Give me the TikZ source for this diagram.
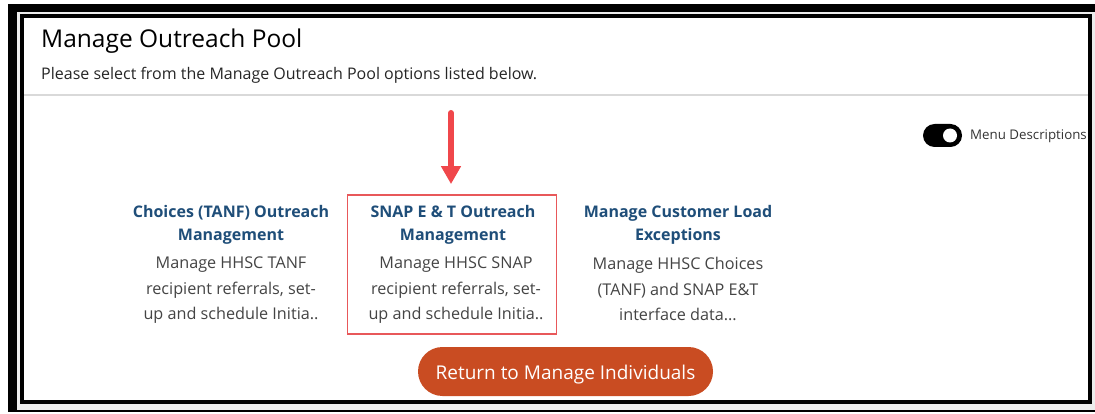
\documentclass[tikz,border=0pt]{standalone}
\usepackage{fontspec}
\setmainfont{Open Sans}
\usetikzlibrary{arrows.meta}
\definecolor{headblue}{HTML}{1F4E79}
\definecolor{desctext}{HTML}{444444}
\definecolor{arrowred}{HTML}{F0474B}
\definecolor{boxred}{HTML}{E8585A}
\definecolor{btnorange}{HTML}{C94C22}
\tikzset{
  heading/.style={font=\bfseries\fontsize{16}{23}\selectfont, text=headblue, align=center, inner sep=0pt},
  desc/.style={font=\fontsize{16.2}{25.5}\selectfont, text=desctext, align=center, inner sep=0pt},
}
\begin{document}
\begin{tikzpicture}[x=1pt,y=-1pt]
\useasboundingbox (0,0) rectangle (1095,414);
\fill[white] (0,0) rectangle (1095,414);
% outer frame
\fill[black] (8,4) rectangle (1095,412);
\fill[gray!15] (17,12) rectangle (1095,409.5);
\draw[black, line width=4pt, fill=white] (22,16.5) rectangle (1090,401.5);
% title
\node[anchor=base west, inner sep=0pt, font=\fontsize{24.5}{28}\selectfont, text=black] (title) at (41,48) {Manage Outreach Pool};
\node[anchor=base west, inner sep=0pt, font=\fontsize{16}{18}\selectfont, text=black!85] (sub) at (41,80) {Please select from the Manage Outreach Pool options listed below.};
\draw[gray!30, line width=1.2pt] (24,95) -- (1088,95);
% toggle
\node[fill=black, rounded corners=11.5pt, minimum width=39pt, minimum height=23pt, inner sep=0pt] (toggle) at (942.5,135.5) {};
\node[fill=white, circle, minimum size=14pt, inner sep=0pt] (knob) at (950,135.5) {};
\node[anchor=west, inner sep=0pt, font=\fontsize{13.3}{16}\selectfont, text=black!80] (menu) at (970,136) {Menu Descriptions};
% column 1
\node[heading, anchor=north] (h1) at (231,205) {Choices (TANF) Outreach\\Management};
\node[desc, anchor=north] (d1) at (231,257) {Manage HHSC TANF\\recipient referrals, set-\\up and schedule Initia..};
% column 2
\node[heading, anchor=north] (h2) at (453,205) {SNAP E \& T Outreach\\Management};
\node[desc, anchor=north] (d2) at (456,257) {Manage HHSC SNAP\\recipient referrals, set-\\up and schedule Initia..};
\node[draw=boxred, line width=1.8pt, minimum width=209pt, minimum height=139pt, inner sep=0pt] (snapbox) at (452,264.5) {};
% column 3
\node[heading, anchor=north] (h3) at (678,205) {Manage Customer Load\\Exceptions};
\node[desc, anchor=north] (d3) at (678,257) {Manage HHSC Choices\\(TANF) and SNAP E\&T\\interface data...};
% arrow
\coordinate (arrstart) at (451,113);
\draw[arrowred, line width=6pt, line cap=round, -{Triangle[width=19pt,length=18pt]}] (arrstart) -- ([yshift=10pt]snapbox.north -| arrstart);
% button
\node[fill=btnorange, rounded corners=24.5pt, minimum width=295pt, minimum height=49pt, inner sep=0pt, text height=19.5pt, text depth=4.5pt, text=white, font=\fontsize{19}{21}\selectfont] (btn) at (565.5,371.5) {Return to Manage Individuals};
\end{tikzpicture}
\end{document}
